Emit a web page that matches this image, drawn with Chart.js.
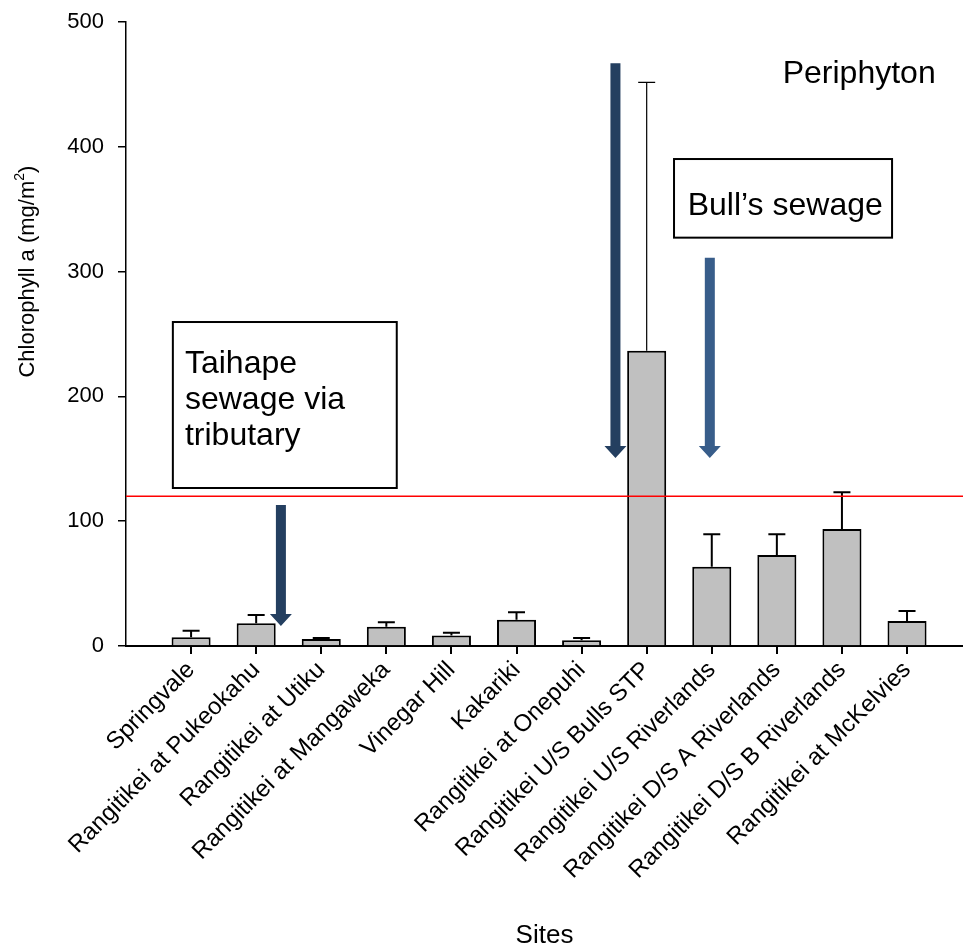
<!DOCTYPE html>
<html>
<head>
<meta charset="utf-8">
<title>Periphyton chlorophyll a</title>
<script src="https://cdn.jsdelivr.net/npm/chart.js@4.4.1/dist/chart.umd.min.js"></script>
<style>
    body { margin: 0; background: #fff; }
    #wrap { width: 963px; height: 949px; }
</style>
</head>
<body>
<div id="wrap"><canvas id="chart" width="963" height="949"></canvas></div>
<script>
// values
const sites = [
    'Springvale',
    'Rangitikei at Pukeokahu',
    'Rangitikei at Utiku',
    'Rangitikei at Mangaweka',
    'Vinegar Hill',
    'Kakariki',
    'Rangitikei at Onepuhi',
    'Rangitikei U/S Bulls STP',
    'Rangitikei U/S Riverlands',
    'Rangitikei D/S A Riverlands',
    'Rangitikei D/S B Riverlands',
    'Rangitikei at McKelvies'
];
const chlorophyll = [7.0, 18.2, 5.6, 15.5, 8.5, 21.1, 4.6, 236.6, 63.6, 72.9, 93.8, 20.0];
const stdErr = [5.3, 6.6, 0.8, 3.5, 2.2, 5.9, 1.8, 215.1, 25.9, 16.6, 29.3, 8.0];
const yTicks = [0, 100, 200, 300, 400, 500];
const guideline = 120; // red reference line

const FONT = '"Liberation Sans", Arial, sans-serif';

// annotation placement, in data units (x = site position, y = mg/m2)
const arrows = [
    { x: 2.38, from: 113, to: 16, color: '#243F60' },
    { x: 7.52, from: 467, to: 150.6, color: '#243F60' },
    { x: 8.97, from: 311, to: 150.6, color: '#385D8A' }
];
const boxes = [
    { x0: 0.72, x1: 4.16, y0: 259.6, y1: 126.6, tx: 0.906, ty: 218.8, lines: ['Taihape', 'sewage via', 'tributary'] },
    { x0: 8.42, x1: 11.77, y0: 390.2, y1: 327.2, tx: 8.63, ty: 345.4, lines: ['Bull\u2019s sewage'] }
];
const label = { x: 10.09, y: 450.9, text: 'Periphyton' };

const annotations = {
    id: 'annotations',
    afterDatasetsDraw(chart) {
        const ctx = chart.ctx;
        const xs = chart.scales.x;
        const ys = chart.scales.y;
        const area = chart.chartArea;

        // error bars (upper only)
        const meta = chart.getDatasetMeta(0);
        ctx.save();
        ctx.strokeStyle = '#000';
        meta.data.forEach((bar, i) => {
            const top = ys.getPixelForValue(chlorophyll[i] + stdErr[i]);
            ctx.lineWidth = i === 7 ? 1.2 : 2;
            ctx.beginPath();
            ctx.moveTo(bar.x, bar.y);
            ctx.lineTo(bar.x, top);
            ctx.moveTo(bar.x - 8.5, top);
            ctx.lineTo(bar.x + 8.5, top);
            ctx.stroke();
        });

        // guideline
        const gy = ys.getPixelForValue(guideline);
        ctx.strokeStyle = '#FF0000';
        ctx.lineWidth = 1.5;
        ctx.beginPath();
        ctx.moveTo(area.left, gy);
        ctx.lineTo(area.right, gy);
        ctx.stroke();

        // arrows
        arrows.forEach(a => {
            const x = xs.getPixelForValue(a.x);
            const y0 = ys.getPixelForValue(a.from);
            const y1 = ys.getPixelForValue(a.to);
            ctx.fillStyle = a.color;
            ctx.beginPath();
            ctx.moveTo(x - 5, y0);
            ctx.lineTo(x + 5, y0);
            ctx.lineTo(x + 5, y1 - 12);
            ctx.lineTo(x + 11, y1 - 12);
            ctx.lineTo(x, y1);
            ctx.lineTo(x - 11, y1 - 12);
            ctx.lineTo(x - 5, y1 - 12);
            ctx.closePath();
            ctx.fill();
        });

        // text boxes
        ctx.font = '32px ' + FONT;
        ctx.textAlign = 'left';
        ctx.textBaseline = 'alphabetic';
        boxes.forEach(b => {
            const l = xs.getPixelForValue(b.x0);
            const r = xs.getPixelForValue(b.x1);
            const t = ys.getPixelForValue(b.y0);
            const btm = ys.getPixelForValue(b.y1);
            ctx.fillStyle = '#fff';
            ctx.fillRect(l, t, r - l, btm - t);
            ctx.strokeStyle = '#000';
            ctx.lineWidth = 2;
            ctx.strokeRect(l, t, r - l, btm - t);
            ctx.fillStyle = '#000';
            const tx = xs.getPixelForValue(b.tx);
            const ty = ys.getPixelForValue(b.ty);
            b.lines.forEach((line, k) => ctx.fillText(line, tx, ty + k * 36));
        });

        ctx.fillStyle = '#000';
        ctx.fillText(label.text, xs.getPixelForValue(label.x), ys.getPixelForValue(label.y));

        // y axis title with superscript
        const cy = ys.getPixelForValue(300);
        ctx.translate(28, cy);
        ctx.rotate(-Math.PI / 2);
        ctx.textBaseline = 'middle';
        ctx.font = '22px ' + FONT;
        const main = 'Chlorophyll a (mg/m';
        const wMain = ctx.measureText(main).width;
        ctx.font = '14px ' + FONT;
        const wSup = ctx.measureText('2').width;
        ctx.font = '22px ' + FONT;
        const wEnd = ctx.measureText(')').width;
        let x = -(wMain + wSup + wEnd) / 2;
        ctx.fillText(main, x, 0);
        x += wMain;
        ctx.font = '14px ' + FONT;
        ctx.fillText('2', x, -8);
        x += wSup;
        ctx.font = '22px ' + FONT;
        ctx.fillText(')', x, 0);
        ctx.restore();
    }
};

new Chart(document.getElementById('chart').getContext('2d'), {
    type: 'bar',
    data: {
        datasets: [{
            label: 'Chlorophyll a',
            data: chlorophyll.map((v, i) => ({ x: i + 1, y: v })),
            backgroundColor: '#C0C0C0',
            borderColor: '#000',
            borderWidth: 2,
            barPercentage: 0.6,
            categoryPercentage: 1
        }]
    },
    options: {
        responsive: false,
        animation: false,
        layout: { padding: 0 },
        plugins: {
            legend: { display: false },
            tooltip: { enabled: false }
        },
        scales: {
            x: {
                type: 'linear',
                offset: false,
                min: 0,
                max: 12.86,
                afterBuildTicks: axis => {
                    axis.ticks = sites.map((s, i) => ({ value: i + 1 }));
                },
                afterFit: axis => { axis.height = 303; },
                grid: { offset: false, drawOnChartArea: false, tickLength: 8, color: '#000', lineWidth: 2 },
                border: { color: '#000', width: 2 },
                ticks: {
                    autoSkip: false,
                    maxRotation: 45,
                    minRotation: 45,
                    padding: 2,
                    color: '#000',
                    font: { family: FONT, size: 24 },
                    callback: v => sites[v - 1]
                },
                title: {
                    display: true,
                    text: 'Sites',
                    color: '#000',
                    font: { family: FONT, size: 26, lineHeight: 1 },
                    padding: 0
                }
            },
            y: {
                min: 0,
                max: 500,
                afterBuildTicks: axis => {
                    axis.ticks = yTicks.map(v => ({ value: v }));
                },
                afterFit: axis => {
                    axis.width = 126;
                    axis.paddingTop = 22;
                    axis.paddingBottom = 0;
                },
                grid: { drawOnChartArea: false, tickLength: 8, color: '#000', lineWidth: 1.5 },
                border: { color: '#000', width: 1.5 },
                ticks: {
                    padding: 14,
                    color: '#000',
                    font: { family: FONT, size: 22 }
                }
            }
        }
    },
    plugins: [annotations]
});
</script>
</body>
</html>
